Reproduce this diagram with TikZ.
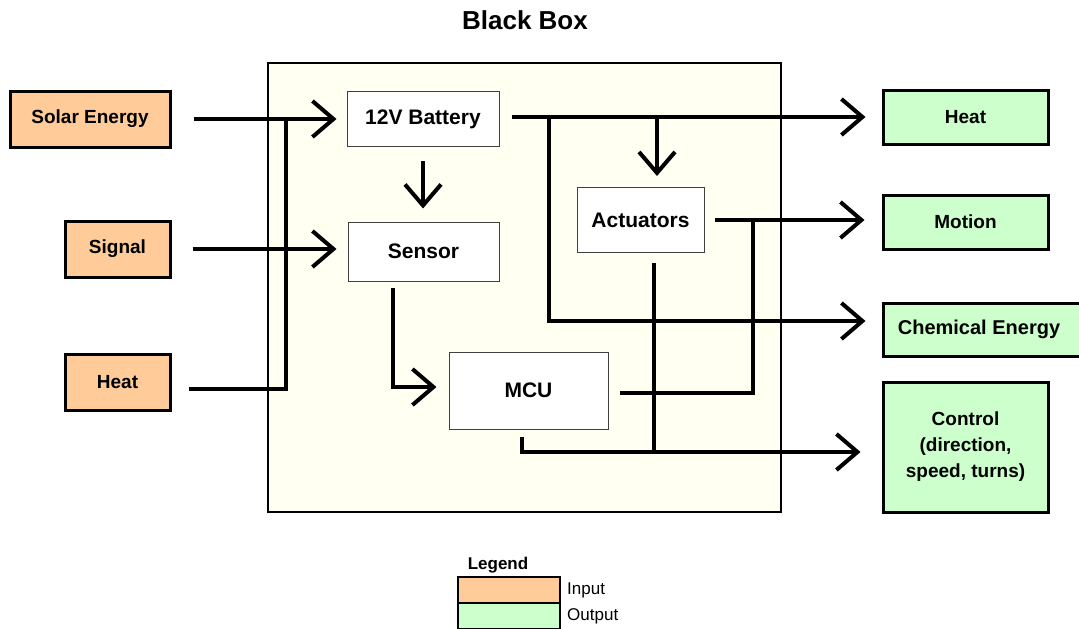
\documentclass[tikz,border=0pt]{standalone}
\usepackage{fontspec}
\setmainfont{Liberation Sans}
\usetikzlibrary{arrows.meta}
\definecolor{inorange}{RGB}{255,204,153}
\definecolor{outgreen}{RGB}{204,255,204}
\definecolor{bbfill}{RGB}{255,255,242}
\begin{document}
\begin{tikzpicture}[x=1pt,y=-1pt,
  conn/.style={line width=4pt,-{Straight Barb[length=21pt,width=36pt]}},
  plain/.style={line width=4pt},
  inbox/.style={draw,line width=3pt,fill=inorange,inner sep=0pt,font=\fontsize{19}{22}\selectfont\bfseries},
  outbox/.style={draw,line width=3pt,fill=outgreen,inner sep=0pt,font=\fontsize{19}{22}\selectfont\bfseries},
  midbox/.style={draw=black!75,line width=1pt,fill=white,inner sep=0pt,font=\fontsize{21}{24}\selectfont\bfseries},
  legbox/.style={draw,line width=2pt,inner sep=0pt,minimum width=102pt,minimum height=26pt},
  legtext/.style={font=\fontsize{17}{20}\selectfont,inner sep=0pt,anchor=west}]
\useasboundingbox (0,0) rectangle (1079,629);
% title
\node[font=\fontsize{26}{30}\selectfont\bfseries] (title) at (525,20) {Black Box};
% black box
\node[draw,line width=2pt,fill=bbfill,minimum width=513pt,minimum height=449pt,inner sep=0pt] (bb) at (524.5,287.5) {};
% inputs
\node[inbox,minimum width=160pt,minimum height=56pt] (solar) at (90,119) {Solar Energy};
\node[inbox,minimum width=105pt,minimum height=56pt] (signal) at (117.5,249) {Signal};
\node[inbox,minimum width=105pt,minimum height=56pt] (heatin) at (117.5,382) {Heat};
% inner boxes
\node[midbox,minimum width=152pt,minimum height=55pt] (battery) at (423,119) {12V Battery};
\node[midbox,minimum width=151pt,minimum height=59pt] (sensor) at (423.5,251.5) {Sensor};
\node[midbox,minimum width=127pt,minimum height=65pt] (act) at (640.5,220) {Actuators};
\node[midbox,minimum width=159pt,minimum height=77pt] (mcu) at (528.5,390.5) {MCU};
% outputs
\node[outbox,minimum width=165pt,minimum height=54pt] (heatout) at (965.5,117) {Heat};
\node[outbox,minimum width=165pt,minimum height=54pt] (motion) at (965.5,222) {Motion};
\node[outbox,minimum width=200pt,minimum height=53pt,font=\fontsize{20}{23}\selectfont\bfseries] (chem) at (983,329.5) {\hspace*{-4pt}Chemical Energy\hspace*{4pt}};
\node[outbox,minimum width=165pt,minimum height=130pt,align=center,font=\fontsize{19}{26}\selectfont\bfseries] (control) at (965.5,447) {Control\\(direction,\\speed, turns)};
% input connectors
\coordinate (jin) at (286,119);
\draw[conn,shorten <=22pt,shorten >=10pt] (solar.east) -- (battery.west);
\draw[conn,shorten <=21pt,shorten >=11pt] (signal.east) -- (signal.east -| sensor.west);
\draw[plain] ([shift={(17,7)}]heatin.east) -| (jin);
% battery
\draw[conn,shorten <=14pt,shorten >=13pt] (battery.south) -- (battery.south |- sensor.north);
\coordinate (bo) at ([shift={(12,-2)}]battery.east);
\coordinate (b1) at (549,117);
\coordinate (b2) at (657,117);
\draw[conn,shorten >=16pt] (bo) -- (bo -| heatout.west);
\draw[conn,shorten >=16pt] (b1) |- ([shift={(0,-8.5)}]chem.west);
\draw[conn,shorten >=11pt] (b2) -- (b2 |- act.north);
% actuators
\draw[conn,shorten <=10pt,shorten >=17pt] (act.east) -- (act.east -| motion.west);
\coordinate (j2) at (753,220);
\draw[plain] (j2) |- ([shift={(11,2.5)}]mcu.east);
\coordinate (j3) at (654,452);
\draw[plain] ([shift={(13.5,10)}]act.south) -- (j3);
% mcu
\draw[conn,shorten >=21pt] ([shift={(-6.5,7)}]mcu.south) |- ([shift={(0,5)}]control.west);
% sensor
\draw[conn,shorten >=12pt] ([shift={(-30.5,6)}]sensor.south) |- ([shift={(0,-3.5)}]mcu.west);
% legend
\node[font=\fontsize{17}{20}\selectfont\bfseries,inner sep=0pt] (leg) at (498,565) {Legend};
\node[legbox,fill=inorange] (lin) at (509,590) {};
\node[legbox,fill=outgreen] (lout) at (509,616) {};
\node[legtext] (tin) at ([xshift=6pt]lin.east) {Input};
\node[legtext] (tout) at ([xshift=6pt]lout.east) {Output};
\end{tikzpicture}
\end{document}
